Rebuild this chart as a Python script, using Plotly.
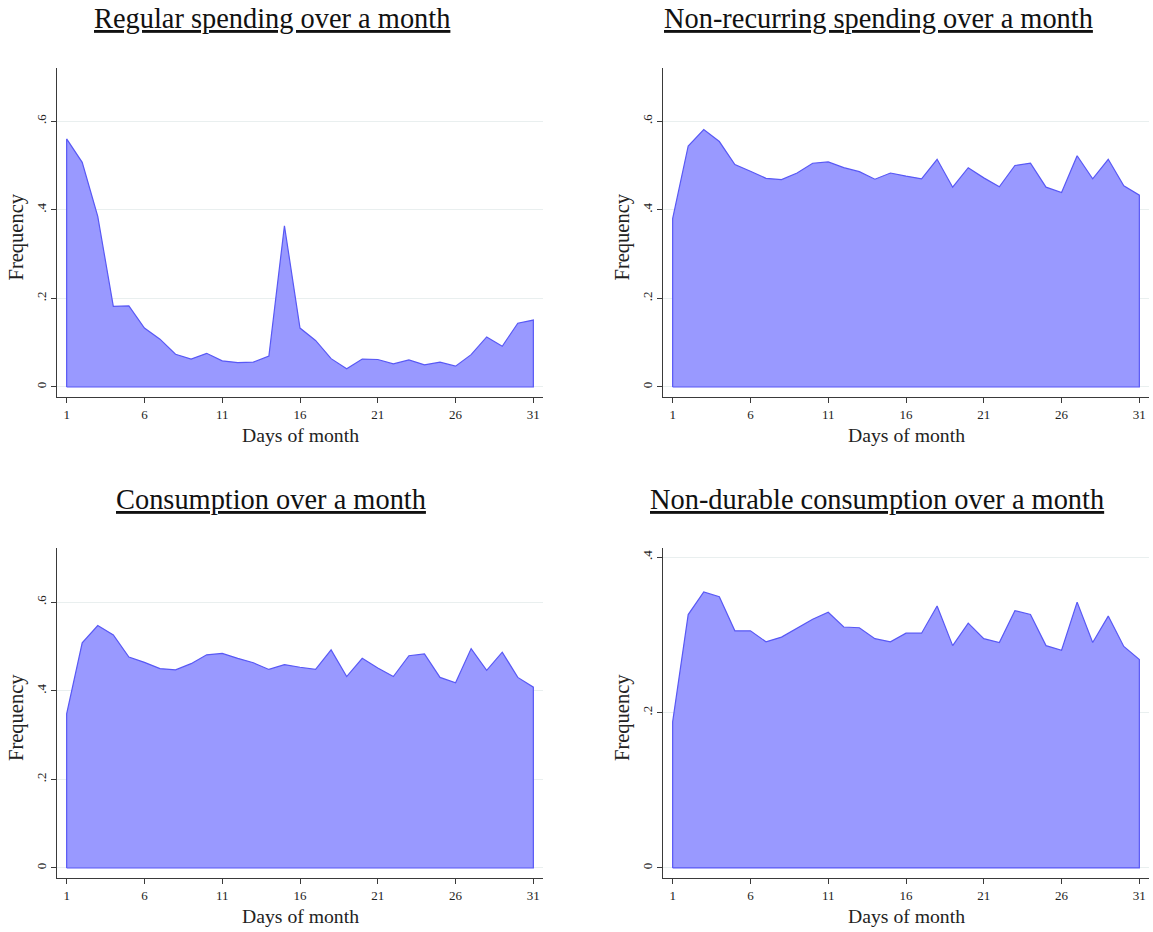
import plotly.graph_objects as go

# Day of month on the horizontal axis
days = list(range(1, 32))

# Share of people with a transaction of each type, by day of the month
regular = [0.560, 0.507, 0.385, 0.182, 0.183, 0.133, 0.108, 0.074, 0.063, 0.076,
           0.059, 0.055, 0.056, 0.070, 0.364, 0.133, 0.105, 0.064, 0.041, 0.063,
           0.062, 0.052, 0.061, 0.050, 0.056, 0.047, 0.073, 0.113, 0.092, 0.144,
           0.151]
nonrecurring = [0.380, 0.544, 0.581, 0.554, 0.502, 0.487, 0.471, 0.468, 0.483, 0.505,
                0.508, 0.495, 0.486, 0.469, 0.483, 0.476, 0.470, 0.514, 0.451, 0.495,
                0.472, 0.452, 0.500, 0.505, 0.451, 0.439, 0.522, 0.470, 0.514, 0.454,
                0.433]
consumption = [0.348, 0.508, 0.547, 0.526, 0.476, 0.464, 0.450, 0.447, 0.461, 0.481,
               0.484, 0.473, 0.463, 0.448, 0.459, 0.453, 0.448, 0.492, 0.432, 0.473,
               0.451, 0.432, 0.479, 0.483, 0.430, 0.418, 0.495, 0.446, 0.487, 0.430,
               0.408]
nondurable = [0.188, 0.326, 0.355, 0.349, 0.305, 0.305, 0.291, 0.297, 0.309, 0.320,
              0.329, 0.310, 0.309, 0.295, 0.291, 0.302, 0.302, 0.337, 0.286, 0.315,
              0.295, 0.290, 0.331, 0.326, 0.286, 0.280, 0.342, 0.290, 0.324, 0.285,
              0.268]

titles = ["Regular spending over a month",
          "Non-recurring spending over a month",
          "Consumption over a month",
          "Non-durable consumption over a month"]

x_ticks = [1, 6, 11, 16, 21, 26, 31]
y_ticks_wide = [0, 0.2, 0.4, 0.6]
y_ticks_narrow = [0, 0.2, 0.4]

W, H = 1153, 932
FONT = "Liberation Serif"
FILL = "rgb(153,153,255)"
EDGE = "rgb(88,88,245)"
AXIS = "#3a3a3a"
GRID = "#e9efef"


def px_x(p):
    return p / W


def px_y(p):
    return 1 - p / H


# Panel geometry in page pixels: (left, right, top, bottom)
boxes = [(57, 543, 68, 397), (663, 1149, 68, 397),
         (57, 543, 548, 878), (663, 1149, 548, 878)]
series = [regular, nonrecurring, consumption, nondurable]
y_ranges = [[-0.0226, 0.72], [-0.0226, 0.72], [-0.0226, 0.722], [-0.0129, 0.4116]]
y_tick_sets = [y_ticks_wide, y_ticks_wide, y_ticks_wide, y_ticks_narrow]
title_pos = [(272, 18), (878, 18), (271, 499), (877, 499)]

fig = go.Figure()
annotations = []
for i, vals in enumerate(series, start=1):
    # Closed outline: base at zero, up the first day, along the series, back down
    xs = [days[0]] + days + [days[-1], days[0]]
    ys = [0] + vals + [0, 0]
    fig.add_trace(go.Scatter(
        x=xs, y=ys, mode="lines", fill="toself", fillcolor=FILL,
        line=dict(color=EDGE, width=1.2),
        xaxis=f"x{i}", yaxis=f"y{i}", hoverinfo="skip", showlegend=False))

    l, r, t, b = boxes[i - 1]
    sfx = "" if i == 1 else str(i)
    yt = y_tick_sets[i - 1]
    fig.layout[f"xaxis{sfx}"] = dict(
        domain=[px_x(l), px_x(r)], range=[0.38, 31.62], anchor=f"y{i}",
        tickvals=x_ticks, ticktext=[str(v) for v in x_ticks],
        ticks="outside", ticklen=5, tickcolor=AXIS, tickwidth=1,
        showline=True, linecolor=AXIS, linewidth=1,
        showgrid=False, zeroline=False, fixedrange=True,
        tickfont=dict(family=FONT, size=13, color="#222222"))
    fig.layout[f"yaxis{sfx}"] = dict(
        domain=[px_y(b), px_y(t)], range=y_ranges[i - 1], anchor=f"x{i}",
        tickvals=yt, ticktext=["0" if v == 0 else ("%.1f" % v)[1:] for v in yt],
        tickangle=-90, ticks="outside", ticklen=5, tickcolor=AXIS, tickwidth=1,
        showline=True, linecolor=AXIS, linewidth=1,
        showgrid=True, gridcolor=GRID, gridwidth=1, zeroline=False, fixedrange=True,
        tickfont=dict(family=FONT, size=13, color="#222222"))

    tx, ty = title_pos[i - 1]
    annotations.append(dict(
        text=f"<u>{titles[i - 1]}</u>", x=px_x(tx), y=px_y(ty),
        xref="paper", yref="paper", xanchor="center", yanchor="middle",
        showarrow=False, font=dict(family=FONT, size=28.4, color="#111111")))
    annotations.append(dict(
        text="Days of month", x=px_x((l + r) / 2), y=px_y(b + 38),
        xref="paper", yref="paper", xanchor="center", yanchor="middle",
        showarrow=False, font=dict(family=FONT, size=19.7, color="#222222")))
    annotations.append(dict(
        text="Frequency", x=px_x(l - 41), y=px_y((t + b) / 2 + 5),
        xref="paper", yref="paper", xanchor="center", yanchor="middle",
        textangle=-90, showarrow=False,
        font=dict(family=FONT, size=20.5, color="#222222")))

fig.update_layout(
    width=W, height=H, margin=dict(l=0, r=0, t=0, b=0),
    paper_bgcolor="white", plot_bgcolor="white",
    annotations=annotations, showlegend=False)

fig.write_html("out.html", config={"displayModeBar": False})
